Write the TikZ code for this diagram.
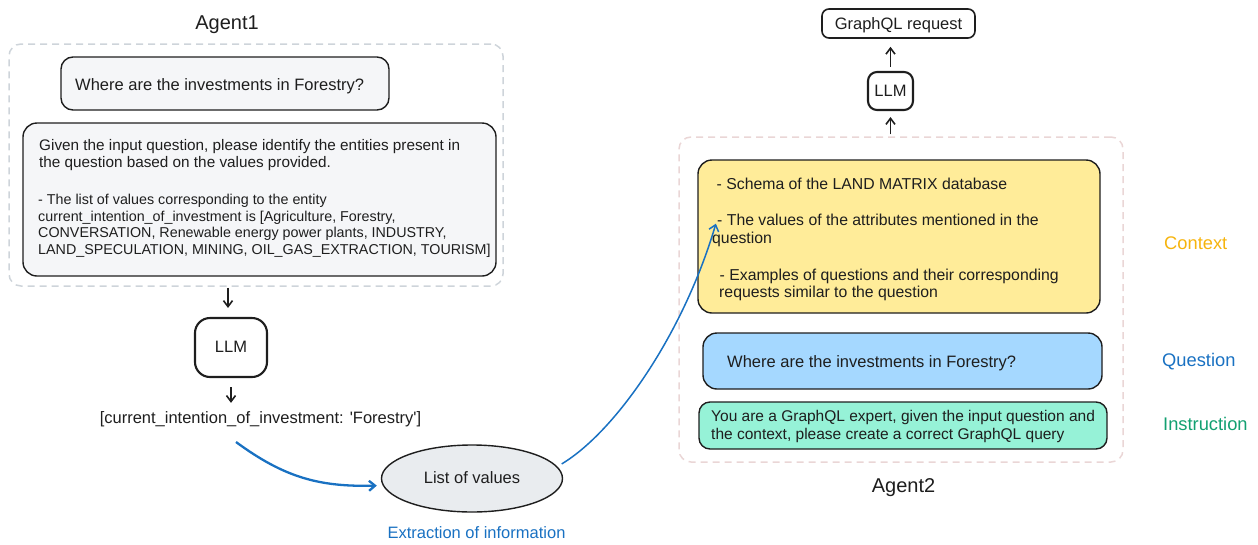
\documentclass[tikz,border=0pt]{standalone}
\usepackage{fontspec}
\setmainfont{Liberation Sans}
\usetikzlibrary{arrows.meta,shapes.geometric}
\definecolor{ink}{HTML}{1E1E1E}
\definecolor{grayfill}{HTML}{F5F6F8}
\definecolor{ellfill}{HTML}{E9ECEF}
\definecolor{dashgray}{HTML}{CED4DA}
\definecolor{dashpink}{HTML}{EAD6D6}
\definecolor{ctxfill}{HTML}{FFEC99}
\definecolor{qfill}{HTML}{A5D8FF}
\definecolor{insfill}{HTML}{96F2D7}
\definecolor{ctxlab}{HTML}{F6B40E}
\definecolor{blu}{HTML}{1971C2}
\definecolor{insgreen}{HTML}{12A071}
\newcommand\myfa{\fontsize{14.3}{17}\selectfont}
\newcommand\myfg{\fontsize{15.3}{17}\selectfont}
\newcommand\myfb{\fontsize{15.5}{18}\selectfont}
\newcommand\myfh{\fontsize{15.8}{18}\selectfont}
\newcommand\myfc{\fontsize{16.5}{19}\selectfont}
\newcommand\myfd{\fontsize{18.3}{21}\selectfont}
\newcommand\myfe{\fontsize{20}{23}\selectfont}
\begin{document}
\begin{tikzpicture}[x=1pt,y=-1pt,
  box/.style={draw=ink,line width=1.4pt,rounded corners=12pt,inner sep=0pt},
  llmbox/.style={draw=ink,line width=2.1pt,inner sep=0pt},
  dashbox/.style={draw=#1,dash pattern=on 7pt off 5pt,line width=1.5pt,rounded corners=12pt,inner sep=0pt},
  txt/.style={anchor=base west,inner sep=0pt,text=ink},
  ctxt/.style={anchor=base,inner sep=0pt,text=ink},
  arr/.style={-{Straight Barb[length=6pt,width=9pt]},line width=1.6pt,draw=ink},
  barr/.style={-{Straight Barb[length=6pt,width=10pt]},draw=blu}]
\useasboundingbox (0,0) rectangle (1258,544);

% Agent1
\node[dashbox=dashgray,minimum width=494pt,minimum height=242pt] (ag1) at (256,165) {};
\node[ctxt,font=\myfe] (ag1lab) at (227,29.3) {Agent1};
\node[box,fill=grayfill,minimum width=328pt,minimum height=53pt] (q1) at (225,83.5) {};
\node[txt,font=\myfc] (q1t) at (75,90) {Where are the investments in Forestry?};
\node[box,rounded corners=14pt,fill=grayfill,minimum width=473pt,minimum height=153pt] (p1) at (259.5,199.5) {};
\node[txt,font=\myfg] (p1a) at (39,150.5) {Given the input question, please identify the entities present in};
\node[txt,font=\myfg] (p1b) at (39,167.5) {the question based on the values provided.};
\node[txt,font=\myfa] (p1c) at (38,204) {- The list of values corresponding to the entity};
\node[txt,font=\myfa] (p1d) at (38,221) {current\_intention\_of\_investment is [Agriculture, Forestry,};
\node[txt,font=\myfa] (p1e) at (38,237.5) {CONVERSATION, Renewable energy power plants, INDUSTRY,};
\node[txt,font=\myfa] (p1f) at (38,254) {LAND\_SPECULATION, MINING, OIL\_GAS\_EXTRACTION, TOURISM]};

\node[llmbox,rounded corners=15pt,minimum width=72pt,minimum height=59pt] (llm1) at (231,347.5) {};
\node[ctxt,font=\myfc] (llm1t) at (231,352) {LLM};
\node[ctxt,font=\myfc] (cur) at (260.5,423) {[current\_intention\_of\_investment: \textquotesingle Forestry\textquotesingle]};

\node[ellipse,draw=ink,line width=1.4pt,fill=ellfill,minimum width=181pt,minimum height=67pt,inner sep=0pt] (lv) at (472,478.5) {};
\node[ctxt,font=\myfc] (lvt) at (472,483) {List of values};
\node[ctxt,font=\myfc,text=blu] (ext) at (476.5,538) {Extraction of information};

\draw[arr,shorten <=1pt,shorten >=9pt] (ag1.south -| 228,0) -- (llm1.north -| 228,0);
\draw[arr,shorten <=9pt,shorten >=8pt] (llm1.south) -- (llm1.south |- cur.north);

% Agent2
\node[dashbox=dashpink,minimum width=444pt,minimum height=325pt] (ag2) at (901,299.5) {};
\node[ctxt,font=\myfe] (ag2lab) at (903.5,492) {Agent2};
\node[box,rounded corners=7pt,line width=1.6pt,minimum width=153pt,minimum height=29pt] (gql) at (898.5,23.5) {};
\node[ctxt,font=\myfc] (gqlt) at (898.5,29) {GraphQL request};
\node[llmbox,rounded corners=9pt,minimum width=45pt,minimum height=38pt] (llm2) at (890.5,91) {};
\node[ctxt,font=\myfc] (llm2t) at (890.5,96.5) {LLM};
\draw[arr,shorten <=4pt,shorten >=8pt] (llm2.north) -- (llm2.north |- gql.south);
\draw[arr,shorten <=2pt,shorten >=6pt] (ag2.north -| llm2.south) -- (llm2.south);

\node[box,rounded corners=14pt,fill=ctxfill,minimum width=402pt,minimum height=153pt] (ctx) at (899,236.5) {};
\node[txt,font=\myfh] (c1) at (716.5,189.5) {- Schema of the LAND MATRIX database};
\node[txt,font=\myfh] (c2) at (717,225.5) {- The values of the attributes mentioned in the};
\node[txt,font=\myfh] (c3) at (712,243) {question};
\node[txt,font=\myfh] (c4) at (719.5,280) {- Examples of questions and their corresponding};
\node[txt,font=\myfh] (c5) at (719,297.5) {requests similar to the question};

\node[box,rounded corners=14pt,fill=qfill,minimum width=399pt,minimum height=56pt] (q2) at (902.5,361) {};
\node[txt,font=\myfc] (q2t) at (727,367) {Where are the investments in Forestry?};

\node[box,rounded corners=11pt,fill=insfill,minimum width=408pt,minimum height=47pt] (ins) at (903,425.5) {};
\node[txt,font=\myfb] (i1) at (711,421) {You are a GraphQL expert, given the input question and};
\node[txt,font=\myfb] (i2) at (711,439) {the context, please create a correct GraphQL query};

\node[txt,font=\myfd,text=ctxlab] (lc) at (1164,249) {Context};
\node[txt,font=\myfd,text=blu] (lq) at (1162,366) {Question};
\node[txt,font=\myfd,text=insgreen] (li) at (1163,430) {Instruction};

% blue connectors
\coordinate (cs) at (236,442);
\draw[barr,line width=2.3pt,shorten >=4pt] (cs) .. controls (285,478) and (320,487) .. ([yshift=-7pt]lv.west);
\draw[barr,line width=1.5pt,shorten <=5pt,shorten >=4pt] (lv.8) .. controls (615,432) and (683,335) .. (c2.west);
\end{tikzpicture}
\end{document}
